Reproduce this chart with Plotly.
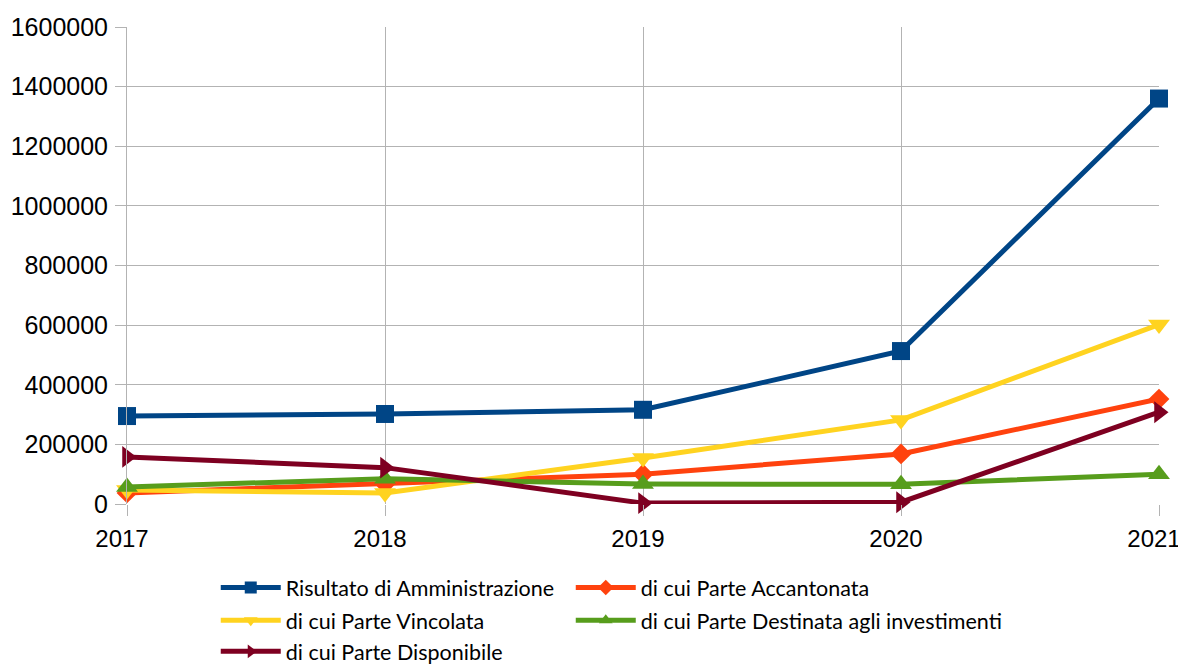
import plotly.graph_objects as go

years = ["2017", "2018", "2019", "2020", "2021"]
risultato = [295000, 302000, 316000, 513000, 1360000]
accantonata = [37000, 67000, 100000, 168000, 352000]
vincolata = [47000, 37000, 154000, 282000, 602000]
destinata = [57000, 85000, 67000, 66000, 100000]
disponibile = [158000, 122000, 3000, 6000, 308000]

names = ["Risultato di Amministrazione", "di cui Parte Accantonata", "di cui Parte Vincolata",
         "di cui Parte Destinata agli investimenti", "di cui Parte Disponibile"]
colors = ["#004586", "#ff420e", "#ffd320", "#579d1c", "#7e0021"]
symbols = ["square", "diamond", "triangle-down", "triangle-up", "triangle-right"]
sizes = [18, 16, 19, 19, 19]
series = [risultato, accantonata, vincolata, destinata, disponibile]
legend_ids = ["legend", "legend2", "legend3", "legend4", "legend5"]
legend_x = [0.086, 0.430, 0.086, 0.430, 0.086]
legend_y = [-0.132, -0.132, -0.201, -0.201, -0.266]

fig = go.Figure()
for n, c, s, sz, v, lg in zip(names, colors, symbols, sizes, series, legend_ids):
    fig.add_trace(go.Scatter(x=list(range(len(years))), y=v, name=n, mode="lines+markers",
                             line=dict(color=c, width=5), showlegend=True, cliponaxis=False,
                             marker=dict(symbol=s, size=sz, color=c), legend=lg))

legends = {}
for lg, lx, ly in zip(legend_ids, legend_x, legend_y):
    legends[lg] = dict(orientation="h", x=lx, y=ly, xanchor="left", yanchor="top",
                       itemsizing="constant", font=dict(family="Lato", size=21.5),
                       itemwidth=60, bgcolor="rgba(0,0,0,0)")

fig.update_layout(
    width=1178, height=656, showlegend=True,
    margin=dict(l=119, r=27, t=19, b=160, autoexpand=False),
    plot_bgcolor="white", paper_bgcolor="white",
    font=dict(family="Liberation Sans", size=25, color="black"),
    xaxis=dict(tickvals=list(range(len(years))), ticktext=years, range=[0, 4],
               showgrid=True, gridcolor="#b3b3b3", gridwidth=1,
               showline=False, zeroline=False, ticklabeloverflow="allow",
               tickfont=dict(size=24), ticklabelshift=-5,
               ticks="outside", ticklen=11, tickcolor="#b3b3b3", ticklabelstandoff=2),
    yaxis=dict(range=[0, 1600000], dtick=200000, tickformat="d",
               showgrid=True, gridcolor="#b3b3b3", gridwidth=1,
               showline=True, linecolor="#b3b3b3", zeroline=False,
               ticks="outside", ticklen=11, tickcolor="#b3b3b3", ticklabelstandoff=2),
    **legends,
)
fig.write_html("out.html")
